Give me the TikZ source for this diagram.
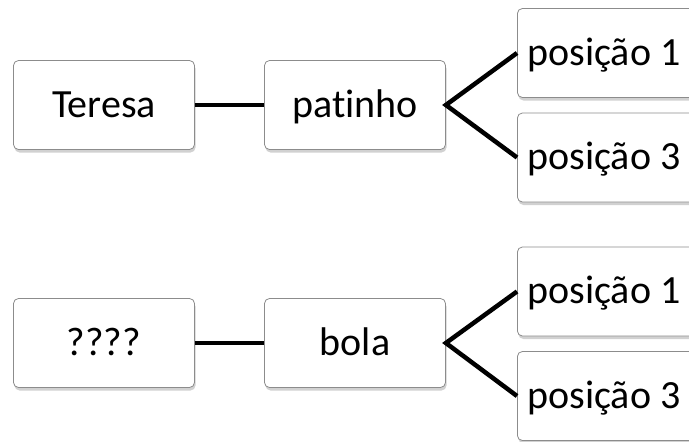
\documentclass[tikz,border=0pt]{standalone}
\usepackage{fontspec}
\setmainfont{Carlito}[RawFeature=-liga]
\usetikzlibrary{shadows}
\newcommand{\padr}[1]{#1\kern40pt\null}
\begin{document}
\begin{tikzpicture}[x=1pt,y=-1pt,
  box/.style={draw=black!45, line width=0.8pt, fill=white, rounded corners=5pt,
    drop shadow={shadow xshift=1pt, shadow yshift=-3pt, opacity=0.3, fill=black!60},
    font=\fontsize{40}{47}\selectfont, inner sep=0pt, text height=31pt, text depth=7pt},
  leftbox/.style={box, minimum width=181pt, minimum height=89pt},
  rightbox/.style={box, minimum height=89pt, anchor=west, inner xsep=10pt},
  link/.style={line width=4.5pt, black}]
\useasboundingbox (0,0) rectangle (689,442);
\clip (0,0) rectangle (689,442);
% top group
\node[leftbox] (teresa) at (104,105) {Teresa};
\node[leftbox] (patinho) at (355,105) {patinho};
\node[rightbox] (p1a) at (517,53) {\padr{posição 1}};
\node[rightbox] (p3a) at (517,157.5) {\padr{posição 3}};
\draw[link] (teresa) -- (patinho);
\draw[link, line join=miter] (p1a.west) -- (patinho.east) -- (p3a.west);
% bottom group
\node[leftbox] (q) at (104,343) {????};
\node[leftbox] (bola) at (355,343) {bola};
\node[rightbox] (p1b) at (517,291.5) {\padr{posição 1}};
\node[rightbox] (p3b) at (517,396) {\padr{posição 3}};
\draw[link] (q) -- (bola);
\draw[link, line join=miter] (p1b.west) -- (bola.east) -- (p3b.west);
\end{tikzpicture}
\end{document}
